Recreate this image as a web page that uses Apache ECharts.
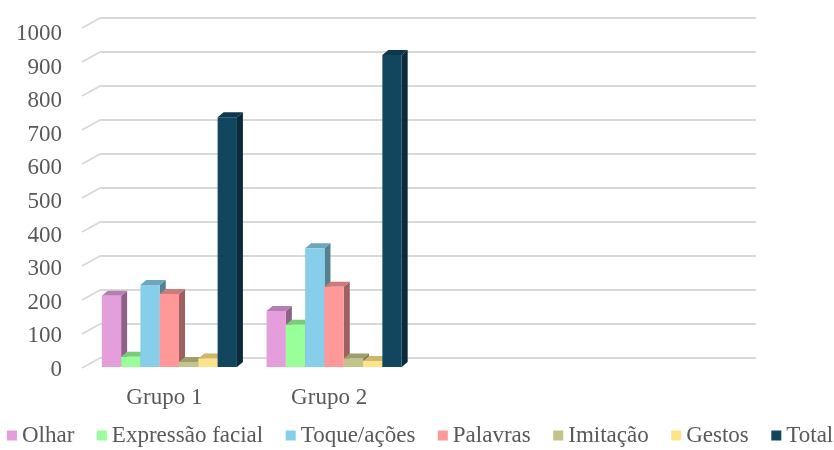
<!DOCTYPE html>
<html>
<head>
<meta charset="utf-8">
<script src="https://cdn.jsdelivr.net/npm/echarts@6/dist/echarts.min.js"></script>
<style>
html,body{margin:0;padding:0;background:#fff;}
#chart{width:834px;height:450px;}
</style>
</head>
<body>
<div id="chart"></div>
<script>
// ---- data ----
var categories = ['Grupo 1', 'Grupo 2', '', ''];
var seriesNames = ['Olhar', 'Expressão facial', 'Toque/ações', 'Palavras', 'Imitação', 'Gestos', 'Total'];
var olhar = [210, 165];
var expressaoFacial = [30, 125];
var toqueAcoes = [242, 350];
var palavras = [215, 237];
var imitacao = [15, 25];
var gestos = [25, 18];
var total = [737, 920];
var yTicks = [0, 100, 200, 300, 400, 500, 600, 700, 800, 900, 1000];

var seriesValues = [olhar, expressaoFacial, toqueAcoes, palavras, imitacao, gestos, total];
var colors = ['#E39EDB', '#99FF99', '#87CEEB', '#FF9999', '#C4C48A', '#FFE38A', '#12455E'];

function shade(hex, f) {
  var n = parseInt(hex.slice(1), 16);
  var r = Math.round(((n >> 16) & 255) * f);
  var g = Math.round(((n >> 8) & 255) * f);
  var b = Math.round((n & 255) * f);
  return 'rgb(' + r + ',' + g + ',' + b + ')';
}

var FONT = '"Liberation Serif", "Times New Roman", serif';
var TXT = '#595959';
var DX = 6, DY = 5;      // bar depth
var WX = 18, WY = 10;    // wall depth

var series = [];

// side wall diagonals on back-wall grid
series.push({
  type: 'custom',
  xAxisIndex: 1, yAxisIndex: 1,
  silent: true,
  z: 1,
  data: yTicks.map(function (v) { return [0, v]; }),
  renderItem: function (params, api) {
    var p = api.coord([0, api.value(1)]);
    return {
      type: 'line',
      shape: { x1: p[0] - WX, y1: p[1] + WY, x2: p[0], y2: p[1] },
      style: { stroke: '#d9d9d9', lineWidth: 2 }
    };
  }
});

seriesNames.forEach(function (name, idx) {
  var col = colors[idx];
  series.push({
    type: 'custom',
    name: name,
    xAxisIndex: 0, yAxisIndex: 0,
    z: 5,
    itemStyle: { color: col },
    data: seriesValues[idx].map(function (v, i) { return [i, v]; }),
    renderItem: function (params, api) {
      var cat = api.value(0), v = api.value(1);
      var base = api.coord([cat, 0]);
      var top = api.coord([cat, v]);
      var band = api.size([1, 0])[0];
      var bw = band * 0.82 / 7;
      var x0 = base[0] - 3.5 * bw + idx * bw;
      var x1 = x0 + bw;
      var y0 = base[1], y1 = top[1];
      return {
        type: 'group',
        children: [
          { type: 'polygon', shape: { points: [[x1, y0], [x1, y1], [x1 + DX, y1 - DY], [x1 + DX, y0 - DY]] },
            style: { fill: shade(col, 0.62) } },
          { type: 'polygon', shape: { points: [[x0, y1], [x0 + DX, y1 - DY], [x1 + DX, y1 - DY], [x1, y1]] },
            style: { fill: shade(col, 0.8) } },
          { type: 'rect', shape: { x: x0, y: y1, width: bw, height: y0 - y1 },
            style: { fill: col } }
        ]
      };
    }
  });
});

var chart = echarts.init(document.getElementById('chart'));
chart.setOption({
  animation: false,
  backgroundColor: '#fff',
  legend: {
    data: seriesNames,
    left: 7,
    top: 424,
    width: 827,
    padding: 0,
    icon: 'rect',
    itemWidth: 10,
    itemHeight: 10,
    itemGap: 22.5,
    textStyle: { fontFamily: FONT, fontSize: 23, color: TXT }
  },
  grid: [
    { left: 87, right: 88, top: 28, bottom: 83 },
    { left: 100, right: 78, top: 18, bottom: 92 },
    { left: 87, right: 88, top: 34, bottom: 80 }
  ],
  xAxis: [
    {
      type: 'category', gridIndex: 0, data: categories,
      axisLine: { show: false }, axisTick: { show: false },
      axisLabel: { fontFamily: FONT, fontSize: 23, color: TXT, margin: 19, padding: [0, 10, 0, 0] }
    },
    { type: 'value', gridIndex: 1, min: 0, max: 1, show: false },
    { type: 'value', gridIndex: 2, min: 0, max: 1, show: false }
  ],
  yAxis: [
    {
      type: 'value', gridIndex: 0, min: 0, max: 1000, interval: 100,
      axisLine: { show: false }, axisTick: { show: false },
      splitLine: { show: false }, axisLabel: { show: false }
    },
    {
      type: 'value', gridIndex: 1, min: 0, max: 1000, interval: 100,
      axisLine: { show: false }, axisTick: { show: false },
      axisLabel: { show: false },
      splitLine: { show: true, lineStyle: { color: '#d9d9d9', width: 2 } }
    },
    {
      type: 'value', gridIndex: 2, min: 0, max: 1000, interval: 100,
      axisLine: { show: false }, axisTick: { show: false },
      splitLine: { show: false },
      axisLabel: {
        fontFamily: FONT, fontSize: 23, color: TXT, margin: 25,
        formatter: function (v) { return String(v); }
      }
    }
  ],
  series: series
});
</script>
</body>
</html>
